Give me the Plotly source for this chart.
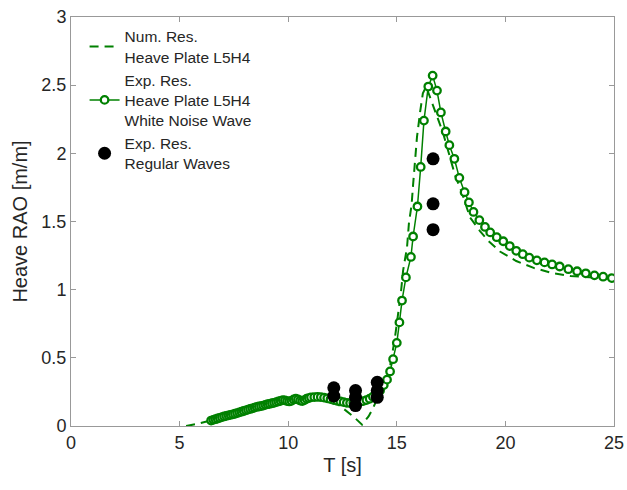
import plotly.graph_objects as go

# Numerical result (dashed)
num_T = [5.3, 5.8, 6.4, 7.0, 7.8, 8.5, 9.3, 10.0, 10.7, 11.3, 11.8, 12.2, 12.6, 13.0, 13.4,
         13.7, 13.9, 14.1, 14.46, 14.7, 14.9, 15.05, 15.19, 15.29, 15.47, 15.56, 15.68, 15.75,
         15.85, 15.93, 16.07, 16.2, 16.35, 16.53, 16.76, 17.13, 17.45, 17.68, 18.0, 18.37,
         18.83, 19.2, 19.75, 20.5, 21.3, 22.2, 23.0, 24.0, 25.0]
num_Y = [0.0, 0.015, 0.04, 0.07, 0.10, 0.14, 0.17, 0.19, 0.20, 0.21, 0.20, 0.17, 0.12, 0.07, 0.01,
         0.07, 0.13, 0.20, 0.29, 0.45, 0.63, 0.80, 0.98, 1.14, 1.31, 1.49, 1.62, 1.77,
         1.95, 2.12, 2.30, 2.44, 2.49, 2.41, 2.30, 2.15, 1.97, 1.84, 1.71, 1.53,
         1.43, 1.36, 1.28, 1.21, 1.16, 1.12, 1.10, 1.09, 1.08]

# Experimental, white noise wave
exp_T = [6.45, 6.55, 6.65, 6.75, 6.85, 6.95, 7.05, 7.15, 7.25, 7.35, 7.45, 7.55, 7.65, 7.75,
         7.85, 7.95, 8.05, 8.15, 8.25, 8.35, 8.45, 8.55, 8.65, 8.75, 8.85, 8.95, 9.05, 9.15,
         9.25, 9.35, 9.45, 9.55, 9.65, 9.75, 9.85, 9.95, 10.05, 10.15, 10.25, 10.35, 10.45,
         10.55, 10.65, 10.75, 10.85, 10.95, 11.05, 11.2, 11.35, 11.5, 11.65, 11.8, 11.95,
         12.1, 12.25, 12.4, 12.55, 12.7, 12.85, 13.0, 13.15, 13.3, 13.45, 13.6, 13.75, 13.9,
         14.05, 14.23, 14.4, 14.55, 14.69, 14.83, 15.0, 15.12, 15.24, 15.42, 15.65, 15.75,
         15.95, 16.1, 16.25, 16.45, 16.65, 16.85, 17.03, 17.25, 17.42, 17.65, 17.88, 18.12,
         18.32, 18.53, 18.8, 19.06, 19.3, 19.6, 19.9, 20.2, 20.5, 20.8, 21.1, 21.45, 21.8,
         22.15, 22.5, 22.9, 23.3, 23.7, 24.1, 24.5, 24.9]
exp_Y = [0.04, 0.045, 0.05, 0.055, 0.06, 0.065, 0.07, 0.074, 0.078, 0.082, 0.086, 0.09, 0.095, 0.10,
         0.105, 0.11, 0.115, 0.12, 0.125, 0.13, 0.135, 0.14, 0.143, 0.146, 0.15, 0.155, 0.16, 0.163,
         0.167, 0.17, 0.175, 0.18, 0.185, 0.19, 0.188, 0.183, 0.18, 0.185, 0.195, 0.20, 0.195,
         0.187, 0.183, 0.19, 0.20, 0.205, 0.21, 0.212, 0.213, 0.212, 0.208, 0.203, 0.197,
         0.19, 0.185, 0.18, 0.175, 0.17, 0.168, 0.17, 0.173, 0.178, 0.183, 0.19, 0.20, 0.215,
         0.235, 0.26, 0.30, 0.34, 0.40, 0.49, 0.61, 0.76, 0.92, 1.09, 1.24, 1.39,
         1.61, 1.90, 2.24, 2.49, 2.57, 2.46, 2.30, 2.16, 2.06, 1.96, 1.82, 1.715,
         1.64, 1.57, 1.51, 1.46, 1.42, 1.385, 1.355, 1.32, 1.285, 1.26, 1.235, 1.215, 1.20,
         1.185, 1.17, 1.15, 1.135, 1.12, 1.105, 1.095, 1.085]

# Experimental, regular waves
reg_T = [12.1, 12.1, 13.1, 13.1, 13.1, 14.1, 14.1, 14.1, 16.67, 16.67, 16.67]
reg_Y = [0.28, 0.22, 0.26, 0.21, 0.15, 0.32, 0.26, 0.21, 1.96, 1.63, 1.44]

x_ticks = [0, 5, 10, 15, 20, 25]
y_ticks = [0, 0.5, 1, 1.5, 2, 2.5, 3]
y_ticklabels = ["0", "0.5", "1", "1.5", "2", "2.5", "3"]

green = "#008000"
font_family = "Liberation Sans, Arial, Helvetica, sans-serif"

fig = go.Figure()
fig.add_trace(go.Scatter(
    x=num_T, y=num_Y, mode="lines",
    line=dict(color=green, width=2, dash="9px,6px"),
    name="Num. Res.<br>Heave Plate L5H4"))
fig.add_trace(go.Scatter(
    x=exp_T, y=exp_Y, mode="lines+markers",
    line=dict(color=green, width=1.5),
    marker=dict(symbol="circle", size=7.5, color="white", line=dict(color=green, width=2.3)),
    name="Exp. Res.<br>Heave Plate L5H4<br>White Noise Wave"))
fig.add_trace(go.Scatter(
    x=reg_T, y=reg_Y, mode="markers",
    marker=dict(symbol="circle", size=13, color="black"),
    name="Exp. Res.<br>Regular Waves"))

axis_common = dict(
    showgrid=False, zeroline=False, showline=True, linecolor="#999999", linewidth=1,
    mirror="ticks", ticks="inside", ticklen=5, tickcolor="#999999", automargin=False,
    tickfont=dict(size=18, color="#262626", family=font_family),
)
fig.update_xaxes(range=[0, 25], tickvals=x_ticks, ticktext=[str(v) for v in x_ticks],
                 title=dict(text="T [s]", font=dict(size=20, color="#262626", family=font_family), standoff=6),
                 **axis_common)
fig.update_yaxes(range=[0, 3], tickvals=y_ticks, ticktext=y_ticklabels,
                 title=dict(text="Heave RAO [m/m]", font=dict(size=20, color="#262626", family=font_family), standoff=8),
                 **axis_common)

fig.update_layout(
    width=627, height=490,
    margin=dict(l=71, r=13, t=17, b=64),
    plot_bgcolor="white", paper_bgcolor="white",
    font=dict(family=font_family, color="#262626"),
    legend=dict(x=0.025, y=0.993, xanchor="left", yanchor="top",
                bgcolor="rgba(0,0,0,0)", font=dict(size=15.5, color="#262626", family=font_family),
                tracegroupgap=0, valign="middle"),
    showlegend=True,
)

fig.write_html("out.html")
